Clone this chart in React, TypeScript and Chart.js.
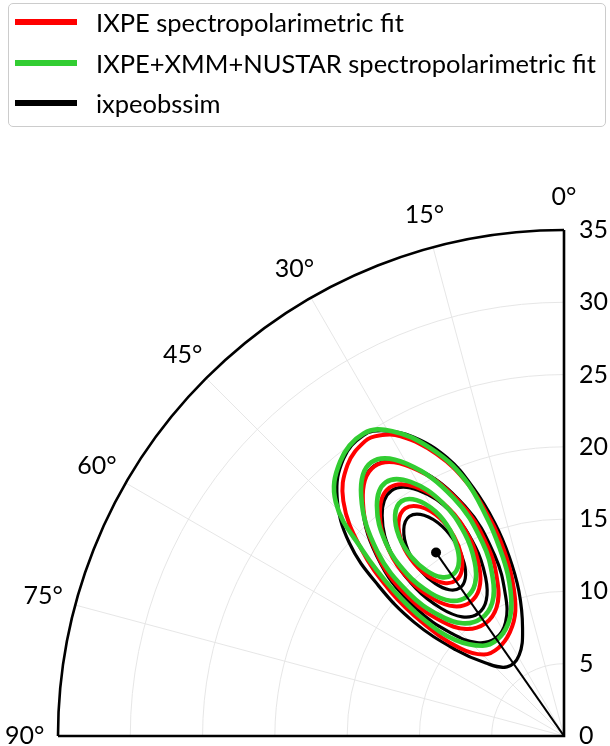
import React, { useEffect, useRef } from "react";
import { Chart, registerables } from "chart.js";

Chart.register(...registerables);

// ---- axes ----
const radialTicks = [0, 5, 10, 15, 20, 25, 30, 35];
const angleTicks = [0, 15, 30, 45, 60, 75, 90];
const rMax = 35;
const angleLabelRadius = 37.3;

// ---- series ----
const seriesNames = [
  "IXPE spectropolarimetric fit",
  "IXPE+XMM+NUSTAR spectropolarimetric fit",
  "ixpeobssim",
];
const seriesColors = ["#ff0000", "#32cd32", "#000000"];

// contour points as [polarization angle (deg), polarization degree (%)]
// IXPE spectropolarimetric fit (red), innermost to outermost
const ixpeFit1 = [[40.96, 15.78], [40.08, 17.38], [37.73, 18.7], [34.9, 19.2], [32.07, 18.7], [29.72, 17.38], [28.84, 15.78], [29.61, 14.38], [31.74, 13.44], [34.9, 13.1], [38.06, 13.44], [40.19, 14.38]];
const ixpeFit2 = [[44.74, 15.14], [43.23, 17.73], [39.36, 20.08], [35.1, 21.0], [30.84, 20.08], [26.97, 17.73], [25.46, 15.14], [26.62, 13.07], [29.9, 11.76], [35.1, 11.3], [40.3, 11.76], [43.58, 13.07]];
const ixpeFit3 = [[48.3, 14.18], [46.11, 17.78], [40.61, 21.37], [35.1, 22.8], [29.59, 21.37], [24.09, 17.78], [21.9, 14.18], [23.4, 11.57], [27.73, 10.03], [35.1, 9.5], [42.47, 10.03], [46.8, 11.57]];
const ixpeFit4 = [[34.0, 24.6], [38.6, 24.0], [43.2, 22.3], [47.2, 19.2], [50.2, 15.6], [51.3, 12.4], [49.8, 9.4], [44.5, 7.9], [36.5, 7.6], [27.5, 8.1], [21.2, 9.3], [18.3, 11.4], [17.9, 13.5], [18.7, 15.7], [20.9, 18.7], [24.3, 21.4], [28.6, 23.6], [31.6, 24.4]];

// IXPE+XMM+NUSTAR spectropolarimetric fit (green)
const jointFit1 = [[40.45, 16.27], [39.61, 17.89], [37.38, 19.24], [34.7, 19.75], [32.02, 19.24], [29.79, 17.89], [28.95, 16.27], [29.68, 14.85], [31.7, 13.89], [34.7, 13.55], [37.7, 13.89], [39.72, 14.85]];
const jointFit2 = [[44.1, 15.59], [42.69, 18.18], [39.07, 20.53], [35.1, 21.45], [31.13, 20.53], [27.51, 18.18], [26.1, 15.59], [27.18, 13.52], [30.24, 12.21], [35.1, 11.75], [39.96, 12.21], [43.02, 13.52]];
const jointFit3 = [[47.35, 14.59], [45.32, 18.16], [40.21, 21.73], [35.1, 23.15], [29.99, 21.73], [24.88, 18.16], [22.85, 14.59], [24.25, 12.0], [28.26, 10.48], [35.1, 9.95], [41.94, 10.48], [45.95, 12.0]];
const jointFit4 = [[33.5, 25.1], [39.2, 24.5], [44.3, 22.6], [47.3, 19.0], [49.5, 15.5], [50.3, 12.5], [48.5, 10.0], [42.0, 8.4], [35.0, 8.1], [27.0, 8.6], [21.8, 9.8], [19.2, 11.8], [18.9, 13.8], [19.4, 15.9], [21.2, 19.1], [24.9, 21.95], [29.4, 24.2]];

// ixpeobssim (black)
const obssim1 = [[40.9, 15.18], [40.05, 16.77], [37.81, 18.08], [35.1, 18.58], [32.39, 18.08], [30.15, 16.77], [29.3, 15.18], [30.03, 13.79], [32.08, 12.86], [35.1, 12.52], [38.12, 12.86], [40.17, 13.79]];
const obssim2 = [[45.1, 14.46], [43.54, 17.24], [39.51, 19.77], [35.1, 20.75], [30.69, 19.77], [26.66, 17.24], [25.1, 14.46], [26.3, 12.24], [29.7, 10.84], [35.1, 10.35], [40.5, 10.84], [43.9, 12.24]];
const obssim3 = [[49.2, 13.39], [46.86, 17.34], [40.99, 21.28], [35.1, 22.85], [29.21, 21.28], [23.34, 17.34], [21.0, 13.39], [22.61, 10.52], [27.22, 8.84], [35.1, 8.25], [42.98, 8.84], [47.59, 10.52]];
const obssim4 = [[33.7, 25.0], [38.5, 24.5], [43.5, 22.8], [48.0, 20.0], [51.0, 16.5], [52.8, 13.0], [51.5, 9.6], [47.0, 7.4], [39.5, 6.2], [29.0, 6.4], [21.0, 8.0], [17.3, 10.5], [17.0, 13.0], [18.0, 15.5], [20.1, 18.3], [22.8, 20.9], [26.8, 23.2], [30.5, 24.5]];

// best value marker [PA deg, PD %]
const bestPA = 34.9;
const bestPD = 15.47;

const FONT = "Lato, 'DejaVu Sans', sans-serif";

const toXY = (pa: number, pd: number) => {
  const t = (pa * Math.PI) / 180;
  return { x: pd * Math.sin(t), y: pd * Math.cos(t) };
};

function closedLoop(c: number[][]) {
  const p = c.map(([pa, pd]) => toXY(pa, pd));
  return [p[p.length - 1], ...p, p[0], p[1]];
}

function contourDataset(c: number[][], color: string, width: number, order: number) {
  const data = closedLoop(c);
  const last = data.length - 1;
  return {
    data,
    showLine: true,
    borderColor: color,
    borderWidth: width,
    pointRadius: 0,
    tension: 0.4,
    borderCapStyle: "round",
    borderJoinStyle: "round",
    order,
    segment: {
      borderColor: (ctx: any) =>
        ctx.p0DataIndex === 0 || ctx.p1DataIndex === last ? "rgba(0,0,0,0)" : undefined,
    },
  };
}

const polarFrame = {
  id: "polarFrame",
  beforeDatasetsDraw(chart: any) {
    const { ctx, scales } = chart;
    const xs = scales.x;
    const ys = scales.y;
    const ox = xs.getPixelForValue(0);
    const oy = ys.getPixelForValue(0);
    const rp = (v: number) => Math.abs(xs.getPixelForValue(v) - ox);
    ctx.save();
    ctx.strokeStyle = "#e3e3e3";
    ctx.lineWidth = 0.9;
    radialTicks.forEach((v) => {
      if (v > 0 && v < rMax) {
        ctx.beginPath();
        ctx.arc(ox, oy, rp(v), Math.PI, 1.5 * Math.PI);
        ctx.stroke();
      }
    });
    angleTicks.forEach((a) => {
      if (a > 0 && a < 90) {
        const p = toXY(a, rMax);
        ctx.beginPath();
        ctx.moveTo(ox, oy);
        ctx.lineTo(xs.getPixelForValue(p.x), ys.getPixelForValue(p.y));
        ctx.stroke();
      }
    });
    ctx.restore();
  },
  afterDatasetsDraw(chart: any) {
    const { ctx, scales } = chart;
    const xs = scales.x;
    const ys = scales.y;
    const ox = xs.getPixelForValue(0);
    const oy = ys.getPixelForValue(0);
    const R = Math.abs(xs.getPixelForValue(rMax) - ox);
    ctx.save();
    ctx.strokeStyle = "#000";
    ctx.lineWidth = 2.6;
    ctx.beginPath();
    ctx.arc(ox, oy, R, Math.PI, 1.5 * Math.PI);
    ctx.stroke();
    ctx.beginPath();
    ctx.moveTo(ox, ys.getPixelForValue(rMax));
    ctx.lineTo(ox, oy);
    ctx.lineTo(xs.getPixelForValue(rMax), oy);
    ctx.stroke();

    ctx.fillStyle = "#000";
    ctx.font = `25px ${FONT}`;
    ctx.textAlign = "left";
    ctx.textBaseline = "middle";
    radialTicks.forEach((v) => {
      ctx.fillText(String(v), ox + 15, ys.getPixelForValue(v));
    });
    ctx.textAlign = "center";
    angleTicks.forEach((a) => {
      const p = toXY(a, angleLabelRadius);
      ctx.fillText(`${a}°`, xs.getPixelForValue(p.x), ys.getPixelForValue(p.y));
    });
    ctx.restore();
  },
};

export default function App() {
  const ref = useRef<HTMLCanvasElement>(null);

  useEffect(() => {
    if (!ref.current) return;
    const best = toXY(bestPA, bestPD);
    const datasets: any[] = [
      contourDataset(obssim4, seriesColors[2], 3.2, 3),
      contourDataset(obssim3, seriesColors[2], 3.2, 3),
      contourDataset(obssim2, seriesColors[2], 3.2, 3),
      contourDataset(obssim1, seriesColors[2], 3.2, 3),
      contourDataset(ixpeFit4, seriesColors[0], 4, 2),
      contourDataset(ixpeFit3, seriesColors[0], 4, 2),
      contourDataset(ixpeFit2, seriesColors[0], 4, 2),
      contourDataset(ixpeFit1, seriesColors[0], 4, 2),
      contourDataset(jointFit4, seriesColors[1], 4.6, 1),
      contourDataset(jointFit3, seriesColors[1], 4.6, 1),
      contourDataset(jointFit2, seriesColors[1], 4.6, 1),
      contourDataset(jointFit1, seriesColors[1], 4.6, 1),
      {
        data: [{ x: 0, y: 0 }, best],
        showLine: true,
        borderColor: "#000",
        borderWidth: 2,
        pointRadius: [0, 5],
        pointBackgroundColor: "#000",
        pointBorderWidth: 0,
        order: 0,
      },
    ];
    const chart = new Chart(ref.current, {
      type: "scatter",
      data: { datasets },
      options: {
        responsive: false,
        maintainAspectRatio: false,
        animation: false,
        events: [],
        layout: { padding: { left: 58, right: 46, top: 230, bottom: 10 } },
        scales: {
          x: { type: "linear", min: 0, max: rMax, reverse: true, display: false },
          y: { type: "linear", min: 0, max: rMax, display: false },
        },
        plugins: { legend: { display: false }, tooltip: { enabled: false } },
      },
      plugins: [polarFrame],
    } as any);
    return () => chart.destroy();
  }, []);

  const rowCenters = [22, 63, 103];

  return (
    <div style={{ position: "absolute", left: 0, top: 0, width: 610, height: 746, background: "#fff", fontFamily: FONT }}>
      <canvas ref={ref} width={610} height={746} style={{ position: "absolute", left: 0, top: 0, width: 610, height: 746 }} />
      <div
        style={{
          position: "absolute",
          left: 8,
          top: 3,
          width: 598,
          height: 124,
          boxSizing: "border-box",
          border: "1.2px solid #cccccc",
          borderRadius: 5,
          background: "#fff",
        }}
      />
      {seriesNames.map((name, i) => (
        <React.Fragment key={name}>
          <div
            style={{
              position: "absolute",
              left: 15,
              top: rowCenters[i] - 3,
              width: 62,
              height: 6,
              background: seriesColors[i],
            }}
          />
          <div
            style={{
              position: "absolute",
              left: 96,
              top: rowCenters[i] - 20,
              height: 40,
              lineHeight: "40px",
              fontSize: 25.5,
              color: "#000",
              whiteSpace: "nowrap",
            }}
          >
            {name}
          </div>
        </React.Fragment>
      ))}
    </div>
  );
}
